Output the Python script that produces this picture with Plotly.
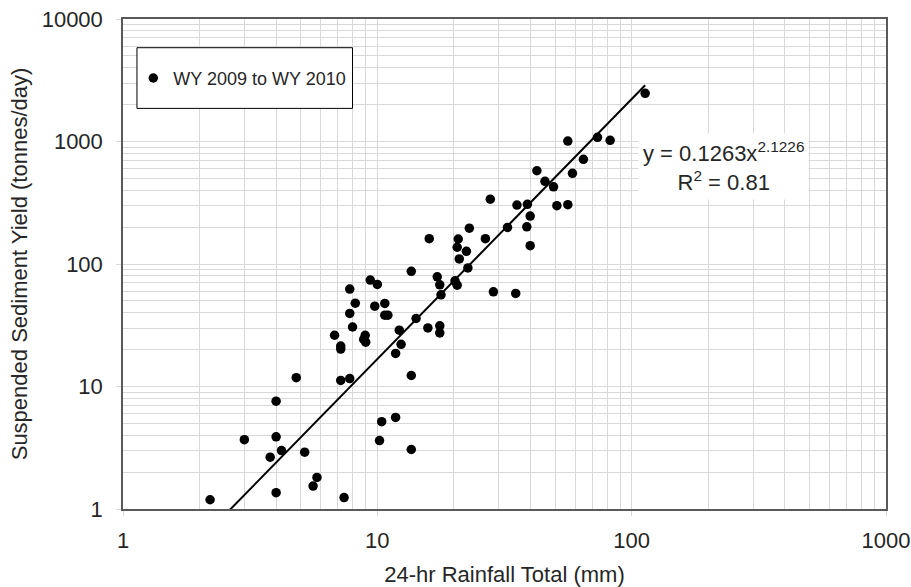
import plotly.graph_objects as go

# ---- data ----
rainfall_mm = [
    2.20, 3.00, 4.00, 4.00, 3.79, 4.20, 4.00, 4.80, 5.18, 5.79,
    5.59, 7.40, 6.79, 7.18, 7.18, 7.18, 7.79, 7.79, 8.19, 7.79,
    7.99, 8.96, 8.84, 9.00, 9.38, 10.0, 9.77, 10.7, 10.7, 11.0,
    10.2, 10.4, 11.8, 11.8, 12.2, 12.4, 13.6, 13.6, 14.2, 15.8,
    17.6, 17.6, 17.8, 13.6, 17.2, 17.6, 20.2, 20.6, 22.7, 21.0,
    22.4, 20.6, 20.8, 23.0, 16.0, 26.6, 27.8, 28.6, 35.0, 32.5,
    35.4, 38.9, 39.9, 38.7, 39.9, 42.4, 45.6, 49.3, 50.8, 56.1,
    58.5, 64.6, 56.1, 73.4, 82.3, 113.0,
]
sediment_t_day = [
    1.19, 3.68, 7.59, 3.88, 2.65, 3.00, 1.36, 11.8, 2.91, 1.81,
    1.54, 1.24, 26.2, 21.4, 20.2, 11.2, 11.6, 62.4, 47.9, 39.5,
    30.6, 26.2, 24.2, 23.0, 73.9, 68.1, 45.3, 47.7, 38.2, 38.2,
    3.62, 5.16, 5.59, 18.6, 28.8, 22.1, 12.3, 3.06, 35.9, 30.1,
    31.3, 27.4, 56.0, 87.2, 78.6, 67.6, 72.9, 67.2, 92.9, 110,
    127, 137, 160, 196, 161, 161, 338, 59.3, 57.5, 199,
    303, 307, 246, 201, 141, 577, 473, 427, 299, 305,
    550, 715, 1009, 1082, 1023, 2476,
]
series_name = "WY 2009 to WY 2010"

# power-law trendline reported on the chart
fit_coef = 0.1263
fit_exp = 2.1226
fit_r2 = 0.81

x_major = [1, 10, 100, 1000]
y_major = [1, 10, 100, 1000, 10000]
x_minor = [m * d for d in (1, 10, 100) for m in range(2, 10)]
y_minor = [m * d for d in (1, 10, 100, 1000) for m in range(2, 10)]

FONT = "Liberation Sans, Arial, sans-serif"
TXT = "#262626"
GRID = "#d9d9d9"
FRAME = "#595959"

fit_x = [min(rainfall_mm), max(rainfall_mm)]
fit_y = [fit_coef * v ** fit_exp for v in fit_x]

fig = go.Figure()
fig.add_trace(go.Scatter(
    x=rainfall_mm, y=sediment_t_day, mode="markers", name=series_name,
    marker=dict(color="black", size=9.5), cliponaxis=True,
))
fig.add_trace(go.Scatter(
    x=fit_x, y=fit_y, mode="lines", showlegend=False,
    line=dict(color="black", width=2), hoverinfo="skip",
))

axis_common = dict(
    type="log", showline=True, mirror=True, linecolor=FRAME, linewidth=1.5,
    showgrid=True, gridcolor=GRID, gridwidth=1, zeroline=False,
    ticks="outside", ticklen=5, tickcolor=GRID, tickwidth=1,
    tickfont=dict(family=FONT, size=22, color=TXT), automargin=False,
)

fig.update_xaxes(
    **axis_common, range=[0, 3], tickmode="array", tickvals=x_major,
    ticktext=[str(v) for v in x_major], ticklabelstandoff=6,
    minor=dict(tickmode="array", tickvals=x_minor, showgrid=True,
               gridcolor=GRID, gridwidth=1, ticks=""),
    title=dict(text="24-hr Rainfall Total (mm)", standoff=15,
               font=dict(family=FONT, size=22, color=TXT)),
)
fig.update_yaxes(
    **axis_common, range=[0, 4], tickmode="array", tickvals=y_major,
    ticktext=[str(v) for v in y_major], ticklabelstandoff=9,
    minor=dict(tickmode="array", tickvals=y_minor, showgrid=True,
               gridcolor=GRID, gridwidth=1, ticks=""),
    title=dict(text="Suspended Sediment Yield (tonnes/day)", standoff=8,
               font=dict(family=FONT, size=22, color=TXT)),
)

# legend box
fig.add_shape(type="rect", xref="paper", yref="paper",
              x0=0.0183, x1=0.3008, y0=0.8176, y1=0.9414,
              line=dict(color="black", width=1), fillcolor="white", layer="above")

fig.add_annotation(
    xref="paper", yref="paper", x=0.7865, y=0.7,
    xanchor="center", yanchor="middle",
    text=f"y = {fit_coef}x<sup>{fit_exp}</sup><br>R<sup>2</sup> = {fit_r2}",
    showarrow=False, align="center", bgcolor="white", borderpad=4,
    font=dict(family=FONT, size=22, color=TXT),
)

fig.update_layout(
    width=911, height=587,
    margin=dict(l=123, r=25, t=19, b=78),
    paper_bgcolor="white", plot_bgcolor="white",
    showlegend=True,
    legend=dict(x=0.0135, y=0.879, xanchor="left", yanchor="middle",
                bgcolor="rgba(0,0,0,0)", borderwidth=0,
                font=dict(family=FONT, size=18, color=TXT)),
)

fig.write_html("out.html",
               config={"displayModeBar": False},
               post_script="document.body.style.margin='0';")
